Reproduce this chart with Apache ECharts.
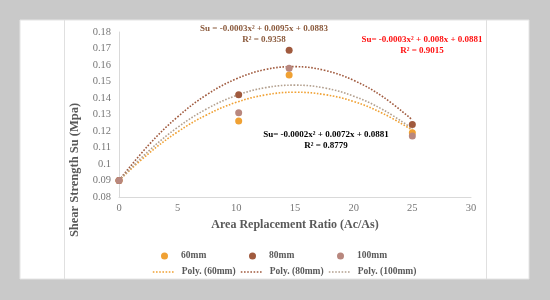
<!DOCTYPE html>
<html>
<head>
<meta charset="utf-8">
<script src="https://cdn.jsdelivr.net/npm/echarts@6/dist/echarts.min.js"></script>
<style>
html,body{margin:0;padding:0;background:#c9c9c9;}
#container{width:550px;height:300px;}
</style>
</head>
<body>
<div id="container"></div>
<script>
// measured points (x = Ac/As, y = Su in MPa)
var ratios = [0, 10.2, 14.5, 25];
var su60 = [0.090, 0.126, 0.154, 0.119];
var su80 = [0.090, 0.142, 0.169, 0.124];
var su100 = [0.090, 0.131, 0.158, 0.117];

// trendline values
var trendX = [0, 2.5, 5, 7.5, 10, 12.5, 15, 17.5, 20, 22.5, 25];
var trend60 = [0.090, 0.1062, 0.1195, 0.1299, 0.1374, 0.1419, 0.1435, 0.1421, 0.1379, 0.1306, 0.1205];
var trend80 = [0.090, 0.1113, 0.1286, 0.1421, 0.1516, 0.1573, 0.1590, 0.1568, 0.1507, 0.1407, 0.1267];
var trend100 = [0.090, 0.1077, 0.1222, 0.1335, 0.1415, 0.1463, 0.1478, 0.1461, 0.1411, 0.1329, 0.1214];

var names = ['60mm', '80mm', '100mm'];
var polyNames = ['Poly. (60mm)', 'Poly. (80mm)', 'Poly. (100mm)'];
var dotColors = ['#f0a133', '#a05a3e', '#b8877e'];
var lineColors = ['#f0a133', '#a05a3e', '#b3a08f'];

var serif = '"Liberation Serif", "Times New Roman", serif';

function pairs(xs, ys){
	var out = [];
	for(var i=0;i<xs.length;i++){
		out.push([xs[i], ys[i]]);
	}
	return out;
}

var seriess = [];
var pts = [su60, su80, su100];
var trends = [trend60, trend80, trend100];
for(var i=0;i<3;i++){
	seriess.push({name: polyNames[i], type: 'line', data: pairs(trendX, trends[i]), smooth: 0.4,
		symbol: 'none', silent: true, z: 1,
		lineStyle: {type: 'dotted', width: 1.6, color: lineColors[i]}, itemStyle: {color: lineColors[i]}});
}
for(var i=0;i<3;i++){
	seriess.push({name: names[i], type: 'scatter', data: pairs(ratios, pts[i]), symbolSize: 7, z: 3,
		itemStyle: {color: dotColors[i], opacity: 1}});
}

// one legend per item so the columns line up like the original
var legendLeft = [156, 244, 332];
var legends = [];
for(var i=0;i<3;i++){
	legends.push({data: [names[i]], left: legendLeft[i], top: 246, icon: 'circle', itemWidth: 7, itemHeight: 7,
		selectedMode: false, textStyle: {fontFamily: serif, fontWeight: 'bold', fontSize: 9.5, color: '#595959', padding: [0,0,0,8]}});
	legends.push({data: [polyNames[i]], left: legendLeft[i] - 9, top: 262, itemWidth: 22, itemHeight: 8,
		itemStyle: {opacity: 0}, lineStyle: {width: 1.6},
		selectedMode: false, textStyle: {fontFamily: serif, fontWeight: 'bold', fontSize: 9.5, color: '#595959', padding: [0,0,0,2]}});
}

var option = {
	backgroundColor: '#c9c9c9',
	animation: false,
	grid: {left: 119, right: 79, top: 32, bottom: 103},
	legend: legends,
	xAxis: {
		type: 'value', min: 0, max: 30, interval: 5,
		name: 'Area Replacement Ratio (Ac/As)', nameLocation: 'middle', nameGap: 21,
		nameTextStyle: {fontFamily: serif, fontWeight: 'bold', fontSize: 12, color: '#595959'},
		axisLine: {show: true, lineStyle: {color: '#d9d9d9'}},
		axisTick: {show: false},
		splitLine: {show: false},
		axisLabel: {fontFamily: serif, fontSize: 10.5, color: '#777', margin: 6}
	},
	yAxis: {
		type: 'value', min: 0.08, max: 0.18, interval: 0.01,
		name: 'Shear Strength Su (Mpa)', nameLocation: 'middle', nameGap: 30,
		nameTextStyle: {fontFamily: serif, fontWeight: 'bold', fontSize: 12.5, color: '#595959', padding: [0,111,0,0]},
		axisLine: {show: true, lineStyle: {color: '#d9d9d9'}},
		axisTick: {show: false},
		splitLine: {show: false},
		axisLabel: {fontFamily: serif, fontSize: 10.5, color: '#777', margin: 8}
	},
	graphic: [
		{type: 'rect', shape: {x: 20, y: 20, width: 509, height: 259}, style: {fill: '#fff', stroke: '#e4e4e4'}, z: -10, silent: true},
		{type: 'line', shape: {x1: 64.5, y1: 20, x2: 64.5, y2: 279}, style: {stroke: '#e0e0e0', lineWidth: 1}, z: -9, silent: true},
		{type: 'line', shape: {x1: 486.5, y1: 20, x2: 486.5, y2: 279}, style: {stroke: '#e0e0e0', lineWidth: 1}, z: -9, silent: true},
		{type: 'text', style: {text: 'Su = -0.0003x\u00b2 + 0.0095x + 0.0883\nR\u00b2 = 0.9358', x: 264, y: 23,
			textAlign: 'center', font: 'bold 9px ' + serif, fill: '#8b5a3c', lineHeight: 11}},
		{type: 'text', style: {text: 'Su= -0.0003x\u00b2 + 0.008x + 0.0881\nR\u00b2 = 0.9015', x: 422, y: 34,
			textAlign: 'center', font: 'bold 9px ' + serif, fill: '#ff1010', lineHeight: 11}},
		{type: 'text', style: {text: 'Su= -0.0002x\u00b2 + 0.0072x + 0.0881\nR\u00b2 = 0.8779', x: 326, y: 129,
			textAlign: 'center', font: 'bold 9px ' + serif, fill: '#000', lineHeight: 11}}
	],
	series: seriess
};

var chart = echarts.init(document.getElementById('container'));
chart.setOption(option);
</script>
</body>
</html>
